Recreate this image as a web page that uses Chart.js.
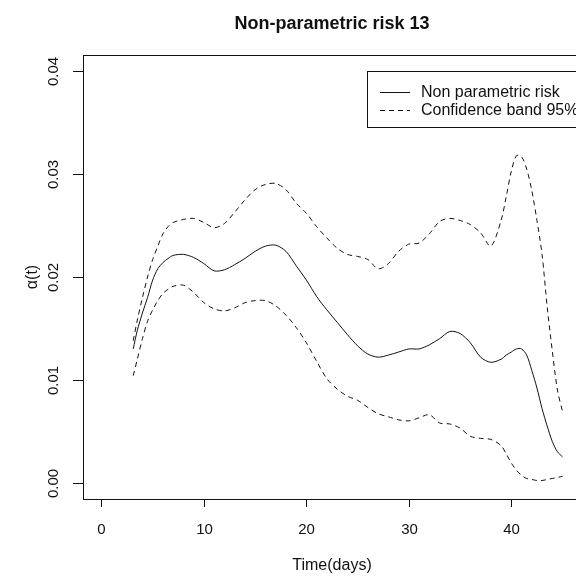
<!DOCTYPE html>
<html>
<head>
<meta charset="utf-8">
<script src="https://cdn.jsdelivr.net/npm/chart.js@4.4.1/dist/chart.umd.min.js"></script>
<style>
  html, body { margin: 0; padding: 0; background: #fff; overflow: hidden; }
  #wrap { width: 576px; height: 576px; overflow: hidden; position: relative; }
  canvas { display: block; }
</style>
</head>
<body>
<div id="wrap"><canvas id="risk-chart" width="592" height="576"></canvas></div>
<script>
const chartTitle = 'Non-parametric risk 13';
const xTitle = 'Time(days)';
const yTitle = 'α(t)';
const xTicks = [0, 10, 20, 30, 40];
const yTicks = [0, 0.01, 0.02, 0.03, 0.04];
const yTickLabels = ['0.00', '0.01', '0.02', '0.03', '0.04'];

const days = [3.1, 3.5, 4, 4.5, 5, 5.5, 6, 6.5, 7, 8, 9, 10, 11, 12, 13, 14, 15, 16, 17, 18, 19, 20,
  21, 22, 23, 24, 25, 26, 27, 28, 29, 30, 31, 32, 33, 34, 35, 36, 37, 38, 39, 39.5, 40, 40.5, 41,
  41.5, 42, 42.5, 43, 43.5, 44, 44.5, 45];

const riskValues = [0.0130, 0.0148, 0.0165, 0.0180, 0.0197, 0.0208, 0.0214, 0.0218, 0.0221, 0.0222,
  0.0219, 0.0213, 0.0206, 0.0207, 0.0212, 0.0218, 0.0225, 0.0230, 0.0231, 0.0225, 0.0211, 0.0197,
  0.0181, 0.0168, 0.0156, 0.0144, 0.0133, 0.0125, 0.0122, 0.0124, 0.0127, 0.0130, 0.0130, 0.0134,
  0.0140, 0.0147, 0.0145, 0.0136, 0.0122, 0.0117, 0.0120, 0.0124, 0.0127, 0.0130, 0.0130, 0.0124,
  0.0109, 0.0092, 0.0072, 0.0055, 0.0040, 0.0030, 0.0025];

const upperBand = [0.0138, 0.0158, 0.0180, 0.0200, 0.0217, 0.0230, 0.0242, 0.0249, 0.0253, 0.0256,
  0.0257, 0.0253, 0.0248, 0.0252, 0.0263, 0.0275, 0.0285, 0.0290, 0.0291, 0.0285, 0.0272, 0.0262,
  0.0249, 0.0238, 0.0228, 0.0222, 0.0220, 0.0217, 0.0208, 0.0213, 0.0225, 0.0232, 0.0233, 0.0242,
  0.0254, 0.0257, 0.0255, 0.0251, 0.0243, 0.0230, 0.0255, 0.0278, 0.0303, 0.0318, 0.0317, 0.0305,
  0.0284, 0.0255, 0.0222, 0.0171, 0.0128, 0.0090, 0.0069];

const lowerBand = [0.0104, 0.0120, 0.0140, 0.0157, 0.0168, 0.0177, 0.0184, 0.0188, 0.0191, 0.0192,
  0.0185, 0.0175, 0.0169, 0.0167, 0.0170, 0.0175, 0.0177, 0.0177, 0.0172, 0.0163, 0.0151, 0.0136,
  0.0118, 0.0101, 0.0091, 0.0084, 0.0080, 0.0073, 0.0067, 0.0064, 0.0061, 0.0060, 0.0063, 0.0066,
  0.0058, 0.0057, 0.0053, 0.0045, 0.0043, 0.0042, 0.0036, 0.0028, 0.0019, 0.0012, 0.0007, 0.0004,
  0.0003, 0.0002, 0.0002, 0.0003, 0.0004, 0.0005, 0.0006];

const FONT = '"Liberation Sans", Arial, sans-serif';
const INK = '#111';

function toPoints(values) {
  return days.map((d, i) => ({ x: d, y: values[i] }));
}

// axes, box, titles and legend drawn R-style on top of the chart area
const rStylePlot = {
  id: 'rStylePlot',
  afterDraw(chart) {
    const ctx = chart.ctx;
    const area = chart.chartArea;
    const xs = chart.scales.x;
    const ys = chart.scales.y;
    ctx.save();
    ctx.strokeStyle = INK;
    ctx.fillStyle = INK;
    ctx.lineWidth = 1;
    ctx.setLineDash([]);

    ctx.strokeRect(Math.round(area.left) + 0.5, Math.round(area.top) + 0.5,
      Math.round(area.right - area.left), Math.round(area.bottom - area.top));

    ctx.font = '15px ' + FONT;
    ctx.textAlign = 'center';
    ctx.textBaseline = 'middle';
    xTicks.forEach(v => {
      const px = Math.round(xs.getPixelForValue(v)) + 0.5;
      ctx.beginPath();
      ctx.moveTo(px, area.bottom);
      ctx.lineTo(px, area.bottom + 8);
      ctx.stroke();
      ctx.fillText(String(v), px, area.bottom + 31);
    });

    yTicks.forEach((v, i) => {
      const py = Math.round(ys.getPixelForValue(v)) + 0.5;
      ctx.beginPath();
      ctx.moveTo(area.left - 10, py);
      ctx.lineTo(area.left, py);
      ctx.stroke();
      ctx.save();
      ctx.translate(54, py);
      ctx.rotate(-Math.PI / 2);
      ctx.fillText(yTickLabels[i], 0, 0);
      ctx.restore();
    });

    const midX = 332;
    ctx.font = '16px ' + FONT;
    ctx.fillText(xTitle, midX, 566);
    ctx.save();
    ctx.translate(33, (area.top + area.bottom) / 2);
    ctx.rotate(-Math.PI / 2);
    ctx.fillText(yTitle, 0, 0);
    ctx.restore();

    ctx.font = 'bold 18px ' + FONT;
    ctx.fillText(chartTitle, midX, 24);

    // legend
    const lx = 367, ly = 71;
    ctx.fillStyle = '#fff';
    ctx.fillRect(lx, ly, 240, 56);
    ctx.strokeRect(lx + 0.5, ly + 0.5, 240, 56);
    ctx.fillStyle = INK;
    ctx.font = '16px ' + FONT;
    ctx.textAlign = 'left';
    chart.data.datasets.slice(0, 2).forEach((ds, i) => {
      const y = 92.5 + i * 18;
      ctx.setLineDash(ds.borderDash || []);
      ctx.beginPath();
      ctx.moveTo(380, y);
      ctx.lineTo(410, y);
      ctx.stroke();
      ctx.fillText(ds.label, 421, y);
    });
    ctx.restore();
  }
};

new Chart(document.getElementById('risk-chart'), {
  type: 'line',
  data: {
    datasets: [
      {
        label: 'Non parametric risk',
        data: toPoints(riskValues),
        borderColor: INK,
        borderWidth: 1,
        pointRadius: 0,
        tension: 0.3
      },
      {
        label: 'Confidence band 95%',
        data: toPoints(upperBand),
        borderColor: INK,
        borderWidth: 1,
        borderDash: [5, 4],
        pointRadius: 0,
        tension: 0.3
      },
      {
        label: 'Confidence band 95% (lower)',
        data: toPoints(lowerBand),
        borderColor: INK,
        borderWidth: 1,
        borderDash: [5, 4],
        pointRadius: 0,
        tension: 0.3
      }
    ]
  },
  options: {
    responsive: false,
    animation: false,
    devicePixelRatio: 1,
    layout: { padding: { left: 83, top: 55, right: 11, bottom: 77 } },
    plugins: {
      legend: { display: false },
      title: { display: false },
      tooltip: { enabled: false }
    },
    scales: {
      x: { type: 'linear', min: -1.8, max: 46.8, display: false },
      y: { type: 'linear', min: -0.0016, max: 0.0416, display: false }
    }
  },
  plugins: [rStylePlot]
});
</script>
</body>
</html>
